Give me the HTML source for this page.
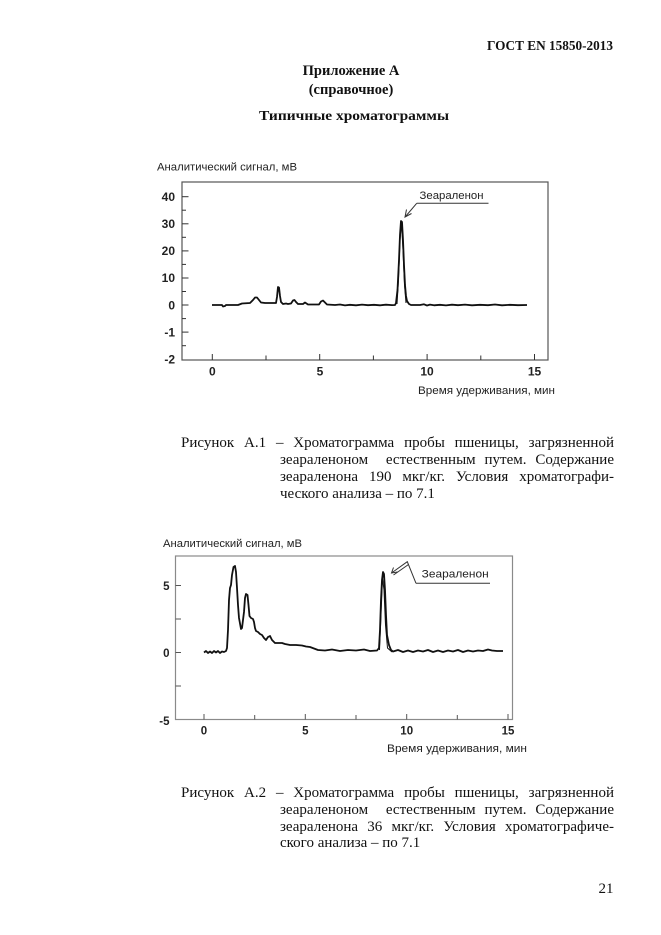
<!DOCTYPE html>
<html>
<head>
<meta charset="utf-8">
<style>
  html,body{margin:0;padding:0;background:#fff;}
  body{width:661px;height:935px;position:relative;overflow:hidden;}
  svg{position:absolute;left:0;top:0;}
  .cap{position:absolute;font-family:"Liberation Serif","Noto Serif CJK SC",serif;font-size:15px;line-height:15px;color:#111;white-space:nowrap;}
  .j{text-align:justify;text-align-last:justify;}
</style>
</head>
<body>
<svg width="661" height="935" viewBox="0 0 661 935" xmlns="http://www.w3.org/2000/svg">
  <rect x="0" y="0" width="661" height="935" fill="#fff"/>

  <!-- Header -->
  <g font-family="Liberation Serif, serif" font-weight="bold" fill="#111">
    <text x="487" y="50" font-size="13.5" textLength="126" lengthAdjust="spacingAndGlyphs">ГОСТ EN 15850-2013</text>
    <text x="351" y="75" font-size="14.5" text-anchor="middle">Приложение А</text>
    <text x="351" y="94" font-size="14.5" text-anchor="middle">(справочное)</text>
    <text x="259" y="120" font-size="14" textLength="190" lengthAdjust="spacingAndGlyphs">Типичные хроматограммы</text>
  </g>

  <!-- ============ CHART 1 ============ -->
  <g font-family="Liberation Sans, sans-serif" fill="#222">
    <text x="157" y="170.5" font-size="11" textLength="140" lengthAdjust="spacingAndGlyphs">Аналитический сигнал, мВ</text>
    <text x="418" y="394" font-size="11" textLength="137" lengthAdjust="spacingAndGlyphs">Время удерживания, мин</text>
  </g>
  <rect x="182" y="182" width="366" height="178" fill="none" stroke="#555" stroke-width="1.2"/>
  <g stroke="#333" stroke-width="1">
    <line x1="182" y1="196.7" x2="188.5" y2="196.7"/>
    <line x1="182" y1="210.2" x2="186" y2="210.2"/>
    <line x1="182" y1="223.8" x2="188.5" y2="223.8"/>
    <line x1="182" y1="237.3" x2="186" y2="237.3"/>
    <line x1="182" y1="250.9" x2="188.5" y2="250.9"/>
    <line x1="182" y1="264.4" x2="186" y2="264.4"/>
    <line x1="182" y1="278" x2="188.5" y2="278"/>
    <line x1="182" y1="291.5" x2="186" y2="291.5"/>
    <line x1="182" y1="305" x2="188.5" y2="305"/>
    <line x1="182" y1="318.6" x2="186" y2="318.6"/>
    <line x1="182" y1="332.1" x2="188.5" y2="332.1"/>
    <line x1="182" y1="345.7" x2="186" y2="345.7"/>
  </g>
  <g stroke="#333" stroke-width="1">
    <line x1="212.3" y1="360" x2="212.3" y2="354"/>
    <line x1="266" y1="360" x2="266" y2="355.5"/>
    <line x1="319.7" y1="360" x2="319.7" y2="354"/>
    <line x1="373.4" y1="360" x2="373.4" y2="355.5"/>
    <line x1="427.1" y1="360" x2="427.1" y2="354"/>
    <line x1="480.8" y1="360" x2="480.8" y2="355.5"/>
    <line x1="534.5" y1="360" x2="534.5" y2="354"/>
  </g>
  <g font-family="Liberation Sans, sans-serif" font-size="12" font-weight="bold" fill="#222" text-anchor="end">
    <text x="175" y="201">40</text>
    <text x="175" y="228">30</text>
    <text x="175" y="255">20</text>
    <text x="175" y="282">10</text>
    <text x="175" y="309.3">0</text>
    <text x="175" y="336.4">-1</text>
    <text x="175" y="363.5">-2</text>
  </g>
  <g font-family="Liberation Sans, sans-serif" font-size="12" font-weight="bold" fill="#222" text-anchor="middle">
    <text x="212.3" y="375.5">0</text>
    <text x="320" y="375.5">5</text>
    <text x="427" y="375.5">10</text>
    <text x="534.5" y="375.5">15</text>
  </g>
  <path fill="none" stroke="#111" stroke-width="1.8" stroke-linejoin="round"
    d="M212,305 L222,305 L223,306.5 L225,306 L226,305 L238,305 L242,303.5 L250,303 L253,300 L255,297.5 L257,297.5 L259,300 L261,302.5 L265,303 L276,303 L277,297 L278,287 L279,287.5 L280,296 L281,302 L283,304 L286,303.5 L288,304 L291,303.5 L293,300.5 L294.5,300 L296,302 L298,304 L303,304 L305,302.5 L306.5,303.5 L308,304.5 L319,304.5 L321,301.5 L323,300.5 L325,302.5 L327,304.5 L335,305 L340,304.5 L345,305.4 L350,304.8 L356,305.3 L362,304.6 L368,305.2 L374,304.8 L380,305.3 L386,304.7 L392,305.1 L395,305 L396,303 L397.5,290 L399,260 L400,235 L401,221 L402,222 L403,240 L404,265 L405,285 L406,296 L407,301 L409,304 L411,305 L420,305 L424,304.3 L427,305.5 L430,304.6 L434,305.3 L440,304.8 L446,305.4 L452,304.7 L458,305.2 L465,304.6 L472,305.3 L480,304.8 L488,305.2 L495,304.5 L502,305.3 L510,304.8 L518,305.2 L527,305"/>
  <path fill="none" stroke="#111" stroke-width="1" d="M397,304 L398.5,280 L400,240 L401.5,223 L403,250 L404.5,285 L406,303"/>
  <text x="419.5" y="199" font-family="Liberation Sans, sans-serif" font-size="11" fill="#222" textLength="64" lengthAdjust="spacingAndGlyphs">Зеараленон</text>
  <g fill="none" stroke="#333" stroke-width="1">
    <line x1="416.7" y1="203.3" x2="488.5" y2="203.3"/>
    <line x1="416.7" y1="203.3" x2="405.5" y2="216.5"/>
    <path d="M406.5,209.5 L405,217 L411.5,213.5"/>
  </g>

  <!-- ============ CHART 2 ============ -->
  <g font-family="Liberation Sans, sans-serif" fill="#222">
    <text x="163" y="547" font-size="11" textLength="139" lengthAdjust="spacingAndGlyphs">Аналитический сигнал, мВ</text>
    <text x="387" y="752" font-size="11" textLength="140" lengthAdjust="spacingAndGlyphs">Время удерживания, мин</text>
  </g>
  <rect x="175.5" y="556" width="337" height="163.5" fill="none" stroke="#8a8a8a" stroke-width="1.2"/>
  <g stroke="#555" stroke-width="1">
    <line x1="175.5" y1="585.5" x2="181" y2="585.5"/>
    <line x1="175.5" y1="619" x2="181" y2="619"/>
    <line x1="175.5" y1="652.5" x2="181" y2="652.5"/>
    <line x1="175.5" y1="686" x2="181" y2="686"/>
    <line x1="204" y1="719.5" x2="204" y2="714"/>
    <line x1="254.7" y1="719.5" x2="254.7" y2="715"/>
    <line x1="305.3" y1="719.5" x2="305.3" y2="714"/>
    <line x1="356" y1="719.5" x2="356" y2="715"/>
    <line x1="406.7" y1="719.5" x2="406.7" y2="714"/>
    <line x1="457.3" y1="719.5" x2="457.3" y2="715"/>
    <line x1="508" y1="719.5" x2="508" y2="714"/>
  </g>
  <g font-family="Liberation Sans, sans-serif" font-size="11.5" font-weight="bold" fill="#222" text-anchor="end">
    <text x="169.5" y="590">5</text>
    <text x="169.5" y="657">0</text>
    <text x="169.5" y="725">-5</text>
  </g>
  <g font-family="Liberation Sans, sans-serif" font-size="11.5" font-weight="bold" fill="#222" text-anchor="middle">
    <text x="204" y="734.5">0</text>
    <text x="305.3" y="734.5">5</text>
    <text x="406.7" y="734.5">10</text>
    <text x="508" y="734.5">15</text>
  </g>
  <path fill="none" stroke="#111" stroke-width="1.8" stroke-linejoin="round"
    d="M204,652.5 L206,651 L208,653 L210,651.5 L212,653 L214,651 L216,652.5 L218,651 L220,653 L222,651.5 L224,652 L226,651 L227,648 L228,630 L229,600 L230,588 L231,585 L232,575 L233.5,567 L235,566 L236,572 L237,588 L238,605 L239,618 L241,629 L242,628 L244,612 L245,598 L246,594 L247.5,595 L248.5,605 L249.5,616 L251,618 L253,619 L254,622 L255,628 L256,631 L258,632 L260,634 L262,635 L264,638 L266,640 L268,637 L270,636 L272,640 L275,643 L282,643 L285,644 L290,645 L296,645 L302,645.5 L306,646.5 L310,647 L314,648.5 L318,650 L325,650.5 L332,649.5 L340,651 L348,650 L356,650.5 L364,649.5 L370,651 L377,650.5 L379,648 L380,630 L381,600 L382,580 L383,572 L384,574 L385,590 L386,615 L387,635 L389,645 L391,650 L393,651.5 L398,650 L403,652 L408,650.5 L413,652 L418,650.5 L423,651.5 L428,650 L433,652 L438,650.5 L443,652 L448,650.5 L453,651.5 L458,650 L463,652 L468,650.5 L473,651.5 L478,650.5 L483,651 L488,649.5 L492,650.5 L497,651 L503,651"/>
  <path fill="none" stroke="#111" stroke-width="1" d="M379.5,650 L381,615 L382.5,578 L384,590 L385.5,625 L387.5,648 L392,652"/>
  <text x="421.7" y="577.5" font-family="Liberation Sans, sans-serif" font-size="11" fill="#222" textLength="67" lengthAdjust="spacingAndGlyphs">Зеараленон</text>
  <g fill="none" stroke="#333" stroke-width="1">
    <line x1="416" y1="583.3" x2="490" y2="583.3"/>
    <polyline points="416,583.3 407.3,561.7 391.5,573"/>
    <line x1="408.5" y1="564.5" x2="393.5" y2="575"/>
    <path d="M393.5,567.5 L391.5,573 L397.5,572"/>
  </g>

  <text x="613.5" y="893" font-family="Liberation Serif, serif" font-size="15" fill="#111" text-anchor="end">21</text>
</svg>

<div class="cap j" style="left:181px;top:436.4px;width:433px;">Рисунок А.1 – Хроматограмма пробы пшеницы, загрязненной</div>
<div class="cap j" style="left:280px;top:453.4px;width:334px;">зеараленоном &nbsp;естественным путем. Содержание</div>
<div class="cap j" style="left:280px;top:470.4px;width:334px;">зеараленона 190 мкг/кг. Условия хроматографи-</div>
<div class="cap" style="left:280px;top:486.9px;">ческого анализа – по 7.1</div>

<div class="cap j" style="left:181px;top:786.4px;width:433px;">Рисунок А.2 – Хроматограмма пробы пшеницы, загрязненной</div>
<div class="cap j" style="left:280px;top:803.4px;width:334px;">зеараленоном &nbsp;естественным путем. Содержание</div>
<div class="cap j" style="left:280px;top:820.4px;width:334px;">зеараленона 36 мкг/кг. Условия хроматографиче-</div>
<div class="cap" style="left:280px;top:836.4px;">ского анализа – по 7.1</div>
</body>
</html>
